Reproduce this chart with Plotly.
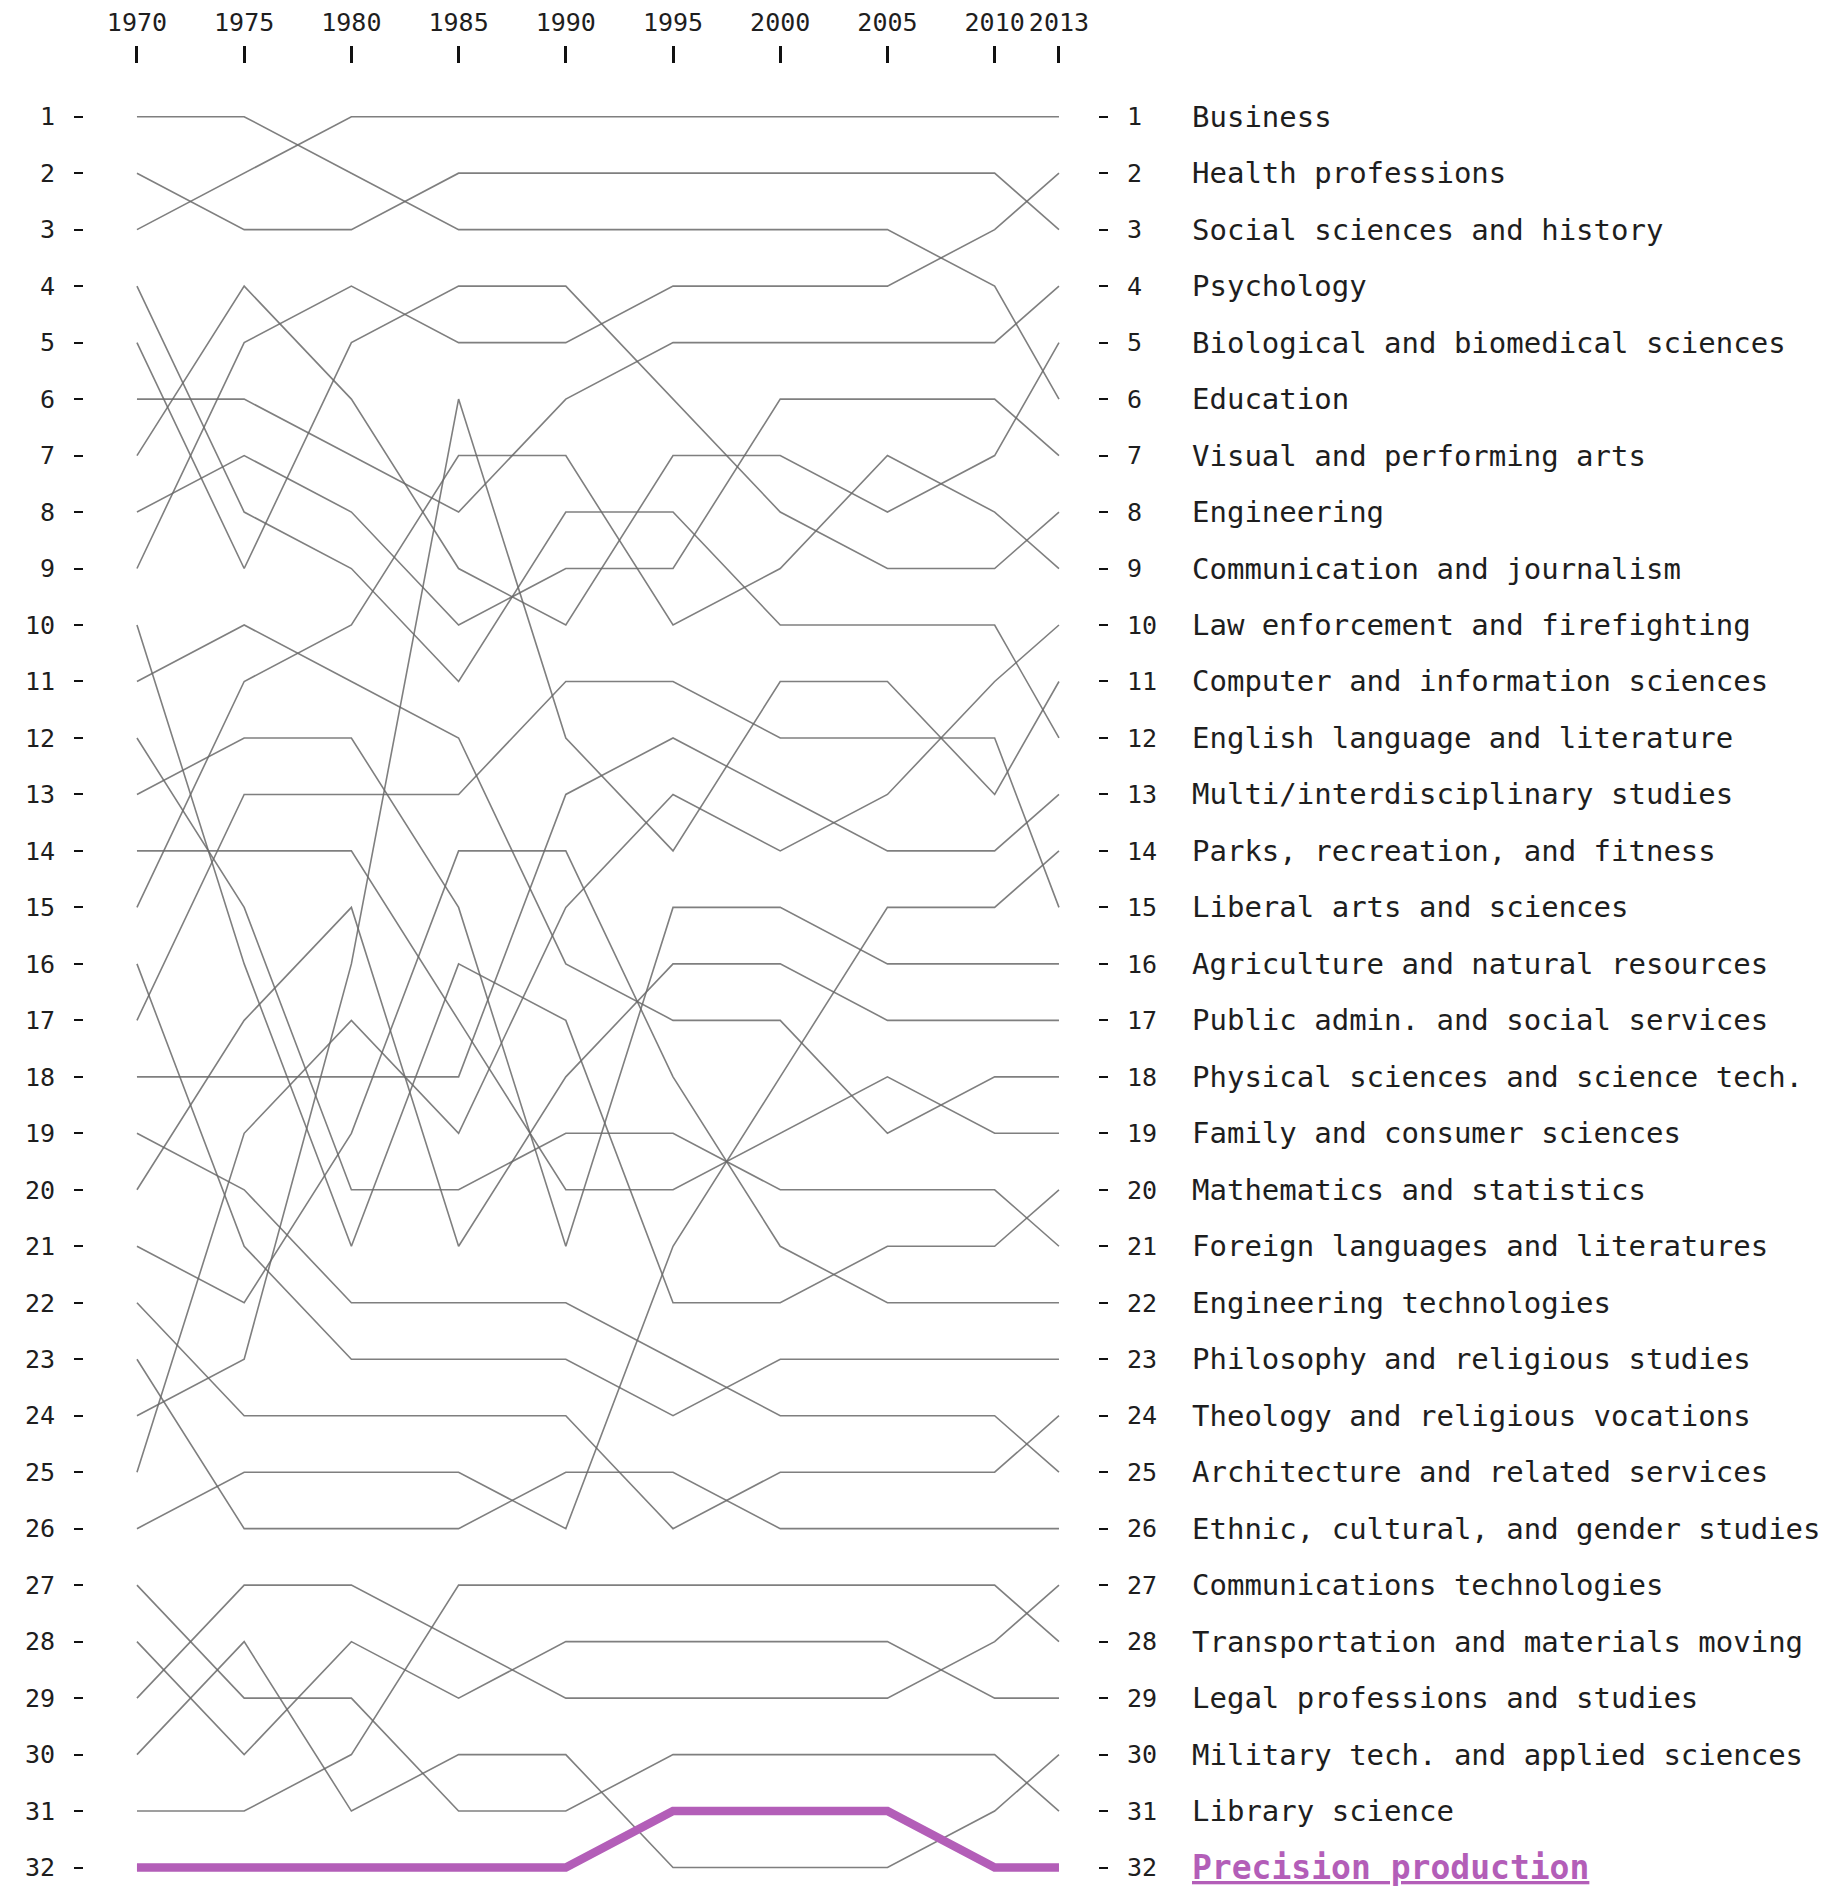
import plotly.graph_objects as go

years = [1970, 1975, 1980, 1985, 1990, 1995, 2000, 2005, 2010, 2013]

# rank of each field in each year (1 = most degrees)
business        = [3, 2, 1, 1, 1, 1, 1, 1, 1, 1]
health          = [9, 5, 4, 5, 5, 4, 4, 4, 3, 2]
social_sci      = [2, 3, 3, 2, 2, 2, 2, 2, 2, 3]
psychology      = [6, 6, 7, 8, 6, 5, 5, 5, 5, 4]
biological      = [7, 4, 6, 9, 10, 7, 7, 8, 7, 5]
education       = [1, 1, 2, 3, 3, 3, 3, 3, 4, 6]
visual_arts     = [8, 7, 8, 10, 9, 9, 6, 6, 6, 7]
engineering     = [5, 9, 5, 4, 4, 6, 8, 9, 9, 8]
communication   = [15, 11, 10, 7, 7, 10, 9, 7, 8, 9]
law_enforcement = [25, 19, 17, 19, 15, 13, 14, 13, 11, 10]
computer        = [24, 23, 16, 6, 12, 14, 11, 11, 13, 11]
english         = [4, 8, 9, 11, 8, 8, 10, 10, 10, 12]
multi           = [18, 18, 18, 18, 13, 12, 13, 14, 14, 13]
parks           = [26, 25, 25, 25, 26, 21, 18, 15, 15, 14]
liberal_arts    = [17, 13, 13, 13, 11, 11, 12, 12, 12, 15]
agriculture     = [13, 12, 12, 15, 21, 15, 15, 16, 16, 16]
public_admin    = [20, 17, 15, 21, 18, 16, 16, 17, 17, 17]
physical_sci    = [11, 10, 11, 12, 16, 17, 17, 19, 18, 18]
family          = [14, 14, 14, 17, 20, 20, 19, 18, 19, 19]
mathematics     = [10, 16, 21, 16, 17, 22, 22, 21, 21, 20]
foreign_lang    = [12, 15, 20, 20, 19, 19, 20, 20, 20, 21]
eng_tech        = [21, 22, 19, 14, 14, 18, 21, 22, 22, 22]
philosophy      = [16, 21, 23, 23, 23, 24, 23, 23, 23, 23]
theology        = [22, 24, 24, 24, 24, 26, 25, 25, 25, 24]
architecture    = [19, 20, 22, 22, 22, 23, 24, 24, 24, 25]
ethnic          = [23, 26, 26, 26, 25, 25, 26, 26, 26, 26]
comm_tech       = [29, 27, 27, 28, 29, 29, 29, 29, 28, 27]
transportation  = [31, 31, 30, 27, 27, 27, 27, 27, 27, 28]
legal           = [28, 30, 28, 29, 28, 28, 28, 28, 29, 29]
military        = [30, 28, 31, 30, 30, 32, 32, 32, 31, 30]
library         = [27, 29, 29, 31, 31, 30, 30, 30, 30, 31]
precision       = [32, 32, 32, 32, 32, 31, 31, 31, 32, 32]

series = [
    ("Business", business),
    ("Health professions", health),
    ("Social sciences and history", social_sci),
    ("Psychology", psychology),
    ("Biological and biomedical sciences", biological),
    ("Education", education),
    ("Visual and performing arts", visual_arts),
    ("Engineering", engineering),
    ("Communication and journalism", communication),
    ("Law enforcement and firefighting", law_enforcement),
    ("Computer and information sciences", computer),
    ("English language and literature", english),
    ("Multi/interdisciplinary studies", multi),
    ("Parks, recreation, and fitness", parks),
    ("Liberal arts and sciences", liberal_arts),
    ("Agriculture and natural resources", agriculture),
    ("Public admin. and social services", public_admin),
    ("Physical sciences and science tech.", physical_sci),
    ("Family and consumer sciences", family),
    ("Mathematics and statistics", mathematics),
    ("Foreign languages and literatures", foreign_lang),
    ("Engineering technologies", eng_tech),
    ("Philosophy and religious studies", philosophy),
    ("Theology and religious vocations", theology),
    ("Architecture and related services", architecture),
    ("Ethnic, cultural, and gender studies", ethnic),
    ("Communications technologies", comm_tech),
    ("Transportation and materials moving", transportation),
    ("Legal professions and studies", legal),
    ("Military tech. and applied sciences", military),
    ("Library science", library),
    ("Precision production", precision),
]
highlight = "Precision production"

FONT = "DejaVu Sans Mono"
GREY = "rgba(105,105,105,0.85)"
PURPLE = "#b35eb8"
TEXT = "#1e1e1e"

fig = go.Figure()
for name, ranks in series:
    if name == highlight:
        continue
    fig.add_trace(go.Scatter(x=years, y=ranks, mode="lines", name=name,
                             line=dict(color=GREY, width=1.6),
                             hoverinfo="skip", showlegend=False))
for name, ranks in series:
    if name == highlight:
        fig.add_trace(go.Scatter(x=years, y=ranks, mode="lines", name=name,
                                 line=dict(color=PURPLE, width=8.5),
                                 hoverinfo="skip", showlegend=False))

# invisible trace so the right-hand rank axis is drawn
fig.add_trace(go.Scatter(x=[years[0]], y=[1], yaxis="y2", mode="markers",
                         marker=dict(opacity=0), hoverinfo="skip", showlegend=False))

for name, ranks in series:
    if name == highlight:
        txt = "<b><u>" + name + "</u></b>"
        col = PURPLE
        size = 33
    else:
        txt = name
        col = TEXT
        size = 29
    fig.add_annotation(x=years[-1], y=ranks[-1], xref="x", yref="y", text=txt,
                       showarrow=False, xanchor="left", yanchor="middle",
                       xshift=131, font=dict(family=FONT, size=size, color=col))

rank_ticks = list(range(1, 33))
yrange = [32.256, 0.067]

fig.update_layout(
    width=1830, height=1887,
    margin=dict(l=84, r=732, t=64, b=5),
    paper_bgcolor="white", plot_bgcolor="white",
    font=dict(family=FONT, color=TEXT),
    xaxis=dict(side="top", range=[1967.53, 2014.82], tickvals=years,
               ticktext=[str(y) for y in years], ticks="outside", ticklen=17,
               tickwidth=3, tickcolor="#111", showgrid=False, zeroline=False,
               showline=False, tickfont=dict(size=25, family=FONT, color=TEXT),
               ticklabelstandoff=5),
    yaxis=dict(range=yrange, tickvals=rank_ticks, ticks="outside", ticklen=9,
               tickwidth=2, tickcolor="#111", showgrid=False, zeroline=False,
               showline=False, tickfont=dict(size=25, family=FONT, color=TEXT),
               ticklabelstandoff=14),
    yaxis2=dict(range=yrange, overlaying="y", side="right", tickvals=rank_ticks,
                ticks="outside", ticklen=9, tickwidth=2, tickcolor="#111",
                showgrid=False, zeroline=False, showline=False,
                tickfont=dict(size=25, family=FONT, color=TEXT),
                ticklabelstandoff=14),
)

fig.write_html("out.html", config={"displayModeBar": False},
               post_script="document.body.style.margin='0';")
